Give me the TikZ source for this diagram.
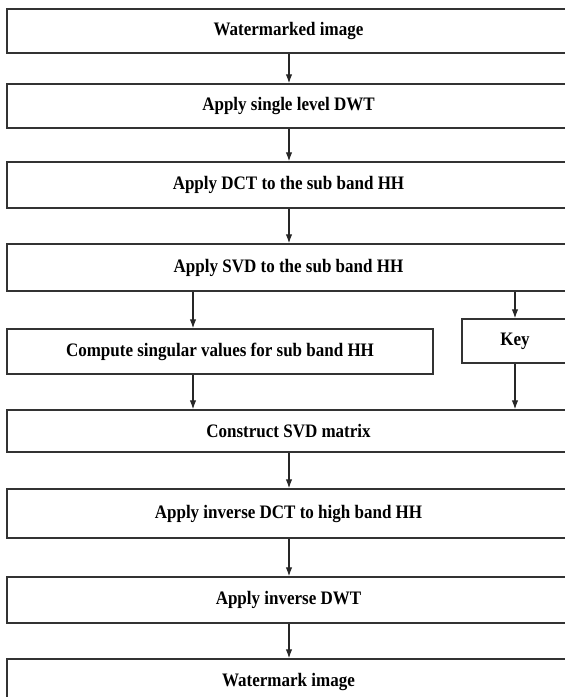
\documentclass[tikz,border=0pt]{standalone}
\usepackage{fontspec}
\setmainfont{Liberation Serif}
\usetikzlibrary{arrows.meta}
\newcommand{\tall}[1]{\scalebox{1}[1.12]{#1}}

\begin{document}
\begin{tikzpicture}[x=1pt, y={(0pt,-1pt)},
	stage/.style={draw=black!80, line width=1.5pt, minimum width=563pt, inner sep=0pt,
		font=\fontsize{17}{20}\selectfont\bfseries},
	flow/.style={draw=black!85, line width=1.1pt, -{Latex[length=9pt,width=6.5pt]}}]
		\useasboundingbox (0,0) rectangle (565,697);

		\draw (288.5,31) node[stage, minimum height=44pt] (wimg) {\tall{Watermarked image}};
		\draw (288.5,106) node[stage, minimum height=44pt] (dwt) {\tall{Apply single level DWT}};
		\draw (288.5,185) node[stage, minimum height=46pt] (dct) {\tall{Apply DCT to the sub band HH}};
		\draw (288.5,267.5) node[stage, minimum height=47pt] (svd) {\tall{Apply SVD to the sub band HH}};
		\draw (220,351.5) node[stage, minimum width=426pt, minimum height=45pt] (sing) {\tall{Compute singular values for sub band HH}};
		\draw (515,341) node[stage, minimum width=106pt, minimum height=44pt] (key) {\tall{Key}};
		\draw (288.5,431) node[stage, minimum height=42pt] (cons) {\tall{Construct SVD matrix}};
		\draw (288.5,513.5) node[stage, minimum height=49pt] (idct) {\tall{Apply inverse DCT to high band HH}};
		\draw (288.5,600) node[stage, minimum height=46pt] (idwt) {\tall{Apply inverse DWT}};
		\draw (288.5,682) node[stage, minimum height=46pt] (mark) {\tall{Watermark image}};

		\coordinate (left) at (193,0);
		\coordinate (mid) at (289,0);

		\draw [flow] (wimg.south -| mid) -- (dwt.north -| mid);
		\draw [flow] (dwt.south -| mid) -- (dct.north -| mid);
		\draw [flow] (dct.south -| mid) -- (svd.north -| mid);
		\draw [flow] (svd.south -| left) -- (sing.north -| left);
		\draw [flow] (svd.south -| key) -- (key.north);
		\draw [flow] (sing.south -| left) -- (cons.north -| left);
		\draw [flow] (key.south) -- (cons.north -| key);
		\draw [flow] (cons.south -| mid) -- (idct.north -| mid);
		\draw [flow] (idct.south -| mid) -- (idwt.north -| mid);
		\draw [flow] (idwt.south -| mid) -- (mark.north -| mid);
	\end{tikzpicture}
\end{document}
